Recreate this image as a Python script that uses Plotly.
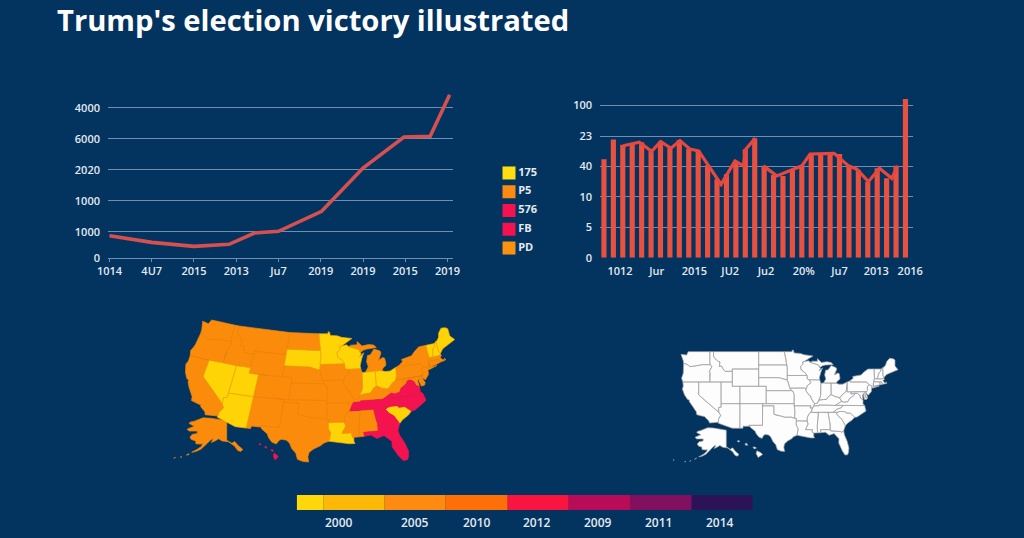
import math
import plotly.graph_objects as go

TITLE = "Trump's election victory illustrated"
BG = "#03345F"
TICK = "#E4EAF1"
GRID = "#6E8FB2"

# Line chart
line_x = [0, 1, 2, 2.83, 3.43, 4, 5.02, 6, 6.97, 7.59, 8.05]
line_y = [720, 505, 376, 441, 806, 860, 1505, 2903, 3903, 3925, 5269]
line_tickvals_x = list(range(9))
line_ticktext_x = ["1014", "4U7", "2015", "2013", "Ju7", "2019", "2019", "2015", "2019"]
line_tickvals_y = [0, 840, 1840, 2840, 3840, 4840]
line_ticktext_y = ["0", "1000", "1000", "2020", "6000", "4000"]

# Bar chart with overlaid line
bar_values = [3.24, 3.89, 3.71, 3.73, 3.80, 3.50, 3.82, 3.60, 3.87, 3.58, 3.52, 3.04, 2.58, 2.74, 3.16, 3.57, 3.93,
              3.02, 2.72, 2.69, 2.88, 3.02, 3.41, 3.43, 3.43, 3.41, 3.02, 2.88, 2.50, 2.94, 2.61, 3.02, 5.22]
bar_line_x = [2.05, 3.75, 5.06, 6.02, 7.11, 8.07, 9.13, 10.05, 12.43, 13.91, 14.8, 15.05, 16.07, None,
              16.92, 18.34, 20.1, 21.0, 21.88, 24.43, 25.95, 26.84, 28.07, 29.24, 30.55, 31.15]
bar_line_y = [3.68, 3.80, 3.50, 3.82, 3.60, 3.85, 3.57, 3.51, 2.41, 3.18, 3.02, 3.57, 3.93, None,
              3.02, 2.69, 2.91, 3.02, 3.41, 3.43, 3.02, 2.91, 2.50, 2.94, 2.61, 3.02]
bar_tickvals_x = [1.7, 5.6, 9.6, 13.4, 17.2, 21.2, 25, 28.9, 32.5]
bar_ticktext_x = ["1012", "Jur", "2015", "JU2", "Ju2", "20%", "Ju7", "2013", "2016"]
bar_tickvals_y = [0, 1, 2, 3, 4, 5]
bar_ticktext_y = ["0", "5", "10", "40", "23", "100"]

# Legend
legend_names = ["175", "P5", "576", "FB", "PD"]
legend_colors = ["#FFDD10", "#FB8A14", "#F5124F", "#F5124F", "#FB9110"]
legend_rows = [4, 3, 2, 1, 0]

# Colour scale strip
strip_widths = [27, 61, 61, 62, 61, 62, 61, 61]
strip_colors = ["#FFD80A", "#FFB806", "#FF8A10", "#FF6F08", "#FA1440", "#B80B58", "#82105E", "#2C1256"]
strip_labels = ["2000", "2005", "2010", "2012", "2009", "2011", "2014"]
strip_label_pos = [42, 118, 180, 240, 301, 362, 423]

# State outlines (lon, lat)
STATES = {
 "WA": [(-124.7,48.4),(-123.2,48.2),(-122.8,49),(-117.03,49),(-117.04,46.42),(-116.92,45.99),(-118.98,46),(-119.3,45.93),(-121.2,45.65),(-122.3,45.55),(-122.8,45.9),(-123.4,46.2),(-124,46.27),(-124.1,46.9)],
 "OR": [(-124,46.27),(-123.4,46.2),(-122.8,45.9),(-122.3,45.55),(-121.2,45.65),(-119.3,45.93),(-118.98,46),(-116.92,45.99),(-116.46,45.6),(-116.85,44.95),(-117.22,44.36),(-116.95,44.2),(-117.03,43.8),(-117.03,42),(-124.2,42),(-124.55,42.84),(-124.1,44)],
 "CA": [(-124.2,42),(-120,42),(-120,39),(-114.63,35),(-114.14,34.3),(-114.72,33.4),(-114.72,32.72),(-117.12,32.53),(-117.3,33),(-118.4,33.75),(-118.5,34.03),(-119.2,34.15),(-120.5,34.45),(-120.65,35.15),(-121.9,36.6),(-122.5,37.5),(-122.5,37.8),(-123,38),(-123.75,39),(-124.35,40.4),(-124.1,41)],
 "NV": [(-120,42),(-114.04,42),(-114.04,36.2),(-114.74,36.1),(-114.63,35),(-120,39)],
 "ID": [(-117.03,49),(-116.05,49),(-116.05,48),(-115.7,47.45),(-114.7,46.7),(-114.35,46.65),(-114.5,45.56),(-113.94,45.69),(-113.45,44.95),(-113,44.45),(-111.05,44.47),(-111.05,42),(-117.03,42),(-117.03,43.8),(-116.95,44.2),(-117.22,44.36),(-116.85,44.95),(-116.46,45.6),(-116.92,45.99),(-117.04,46.42)],
 "MT": [(-116.05,49),(-104.05,49),(-104.05,45),(-111.05,45),(-111.05,44.47),(-113,44.45),(-113.45,44.95),(-113.94,45.69),(-114.5,45.56),(-114.35,46.65),(-114.7,46.7),(-115.7,47.45),(-116.05,48)],
 "WY": [(-111.05,45),(-104.05,45),(-104.05,41),(-111.05,41)],
 "UT": [(-114.04,42),(-111.05,42),(-111.05,41),(-109.05,41),(-109.05,37),(-114.04,37)],
 "CO": [(-109.05,41),(-102.05,41),(-102.05,37),(-109.05,37)],
 "AZ": [(-114.04,37),(-109.05,37),(-109.05,31.33),(-111.07,31.33),(-114.82,32.5),(-114.72,32.72),(-114.72,33.4),(-114.14,34.3),(-114.63,35),(-114.74,36.1),(-114.04,36.2)],
 "NM": [(-109.05,37),(-103,37),(-103.04,32),(-106.62,32),(-106.53,31.78),(-108.21,31.78),(-108.21,31.33),(-109.05,31.33)],
 "ND": [(-104.05,49),(-97.23,49),(-96.85,47.6),(-96.56,45.94),(-104.05,45.94)],
 "SD": [(-104.05,45.94),(-96.56,45.94),(-96.45,45.3),(-96.45,43.5),(-96.45,42.49),(-97.9,42.8),(-98.5,43),(-104.05,43)],
 "NE": [(-104.05,43),(-98.5,43),(-97.9,42.8),(-96.45,42.49),(-96.1,41.7),(-95.85,40.8),(-95.31,40),(-102.05,40),(-102.05,41),(-104.05,41)],
 "KS": [(-102.05,40),(-95.31,40),(-94.9,39.8),(-94.61,39.1),(-94.62,37),(-102.05,37)],
 "OK": [(-103,37),(-94.62,37),(-94.43,35.4),(-94.48,33.64),(-95.5,33.9),(-97,33.85),(-98.1,34.13),(-99.2,34.3),(-100,34.56),(-100,36.5),(-103,36.5)],
 "TX": [(-106.62,32),(-103.04,32),(-103,36.5),(-100,36.5),(-100,34.56),(-99.2,34.3),(-98.1,34.13),(-97,33.85),(-95.5,33.9),(-94.48,33.64),(-94.04,33.55),(-94.04,33.02),(-94.04,32),(-93.55,31.2),(-93.7,30.3),(-93.85,29.7),(-94.7,29.4),(-95.3,28.9),(-96.4,28.35),(-97.2,27.7),(-97.35,26.9),(-97.15,25.95),(-98.2,26.05),(-99.1,26.4),(-99.5,27.5),(-100.3,28.3),(-100.8,29.25),(-101.4,29.77),(-102.3,29.88),(-102.7,29.7),(-103.15,28.98),(-104,29.3),(-104.7,30.05),(-105,30.65),(-106.2,31.47),(-106.53,31.78)],
 "MN": [(-97.23,49),(-95.15,49),(-95.15,49.38),(-94.8,49.3),(-94.6,48.7),(-93,48.6),(-92,48.3),(-90.8,48.2),(-89.6,48),(-92,46.7),(-92.3,46.65),(-92.3,46.1),(-92.9,45.6),(-92.75,44.75),(-91.9,44.3),(-91.2,43.5),(-96.45,43.5),(-96.45,45.3),(-96.56,45.94),(-96.85,47.6)],
 "IA": [(-96.45,43.5),(-91.2,43.5),(-91.1,42.7),(-90.65,42.5),(-90.15,41.8),(-91.1,41.2),(-91.42,40.38),(-91.7,40.6),(-95.77,40.58),(-95.85,40.8),(-96.1,41.7),(-96.45,42.49)],
 "MO": [(-95.77,40.58),(-91.7,40.6),(-91.42,40.38),(-91.5,40),(-90.7,39),(-90.2,38.75),(-90.2,38.4),(-89.5,37.3),(-89.15,37),(-89.4,36.5),(-89.7,36),(-90.37,36),(-90.15,36.5),(-94.62,36.5),(-94.62,37),(-94.61,39.1),(-94.9,39.8),(-95.31,40)],
 "AR": [(-94.62,36.5),(-90.15,36.5),(-90.37,36),(-89.7,36),(-90.1,35.1),(-90.6,34.7),(-91.1,33.9),(-91.17,33),(-94.04,33.02),(-94.04,33.55),(-94.48,33.64),(-94.43,35.4)],
 "LA": [(-94.04,33.02),(-91.17,33),(-90.9,32.3),(-91.6,31),(-89.73,31),(-89.85,30.65),(-89.6,30.2),(-89.4,30.05),(-89.4,29.5),(-89.2,29.1),(-90.2,29.1),(-91.3,29.3),(-92.3,29.55),(-93.85,29.7),(-93.7,30.3),(-93.55,31.2),(-94.04,32)],
 "WI": [(-92.3,46.65),(-92,46.7),(-90.8,46.9),(-90.4,46.55),(-89.1,46.13),(-88.1,45.9),(-87.8,45.35),(-87.6,45.1),(-88,44.55),(-87.05,45.25),(-87.5,44.3),(-87.9,43),(-87.8,42.49),(-90.65,42.5),(-91.1,42.7),(-91.2,43.5),(-91.9,44.3),(-92.75,44.75),(-92.9,45.6),(-92.3,46.1)],
 "IL": [(-90.65,42.5),(-87.8,42.49),(-87.53,41.72),(-87.53,39.35),(-87.6,38.7),(-88.05,37.8),(-88.45,37.1),(-89.15,37),(-89.5,37.3),(-90.2,38.4),(-90.2,38.75),(-90.7,39),(-91.5,40),(-91.42,40.38),(-91.1,41.2),(-90.15,41.8)],
 "IN": [(-87.53,41.72),(-87.2,41.76),(-86.8,41.76),(-84.8,41.76),(-84.8,39.1),(-85.4,38.73),(-86,38),(-86.8,37.95),(-88.05,37.8),(-87.6,38.7),(-87.53,39.35)],
 "OH": [(-84.8,41.76),(-83.45,41.73),(-82.7,41.5),(-81.7,41.5),(-80.52,41.98),(-80.52,40.64),(-80.7,40.1),(-80.9,39.7),(-81.7,39.2),(-82.2,38.6),(-82.6,38.4),(-83.7,38.63),(-84.3,38.95),(-84.8,39.1)],
 "KY": [(-89.4,36.5),(-88.07,36.5),(-88.05,36.68),(-83.68,36.6),(-81.97,37.54),(-82.6,38.17),(-82.6,38.4),(-83.7,38.63),(-84.3,38.95),(-84.8,39.1),(-85.4,38.73),(-86,38),(-86.8,37.95),(-88.05,37.8),(-88.45,37.1),(-89.15,37)],
 "TN": [(-89.7,36),(-89.4,36.5),(-88.07,36.5),(-88.05,36.68),(-83.68,36.6),(-81.68,36.59),(-82,36.1),(-83.1,35.75),(-84.3,35),(-90.1,35)],
 "MS": [(-90.1,35),(-88.2,35),(-88.1,34.9),(-88.47,31.9),(-88.4,30.25),(-89.6,30.2),(-89.85,30.65),(-89.73,31),(-91.6,31),(-90.9,32.3),(-91.17,33),(-91.1,33.9),(-90.6,34.7)],
 "AL": [(-88.2,35),(-85.6,34.98),(-85.18,32.87),(-85,32.3),(-85,31),(-87.6,31),(-87.5,30.3),(-88,30.25),(-88.4,30.25),(-88.47,31.9),(-88.1,34.9)],
 "GA": [(-85.6,34.98),(-83.1,35),(-83.35,34.7),(-82.75,34),(-81.9,33.4),(-81.1,32.1),(-81,31.9),(-81.45,30.72),(-82.05,30.36),(-82.2,30.57),(-84.86,30.7),(-85,31),(-85,32.3),(-85.18,32.87)],
 "FL": [(-87.6,31),(-85,31),(-84.86,30.7),(-82.2,30.57),(-82.05,30.36),(-81.45,30.72),(-81.25,29.8),(-80.55,28.4),(-80.05,26.8),(-80.15,25.75),(-80.4,25.2),(-81.1,25.15),(-81.8,26.1),(-82.2,26.9),(-82.75,27.9),(-82.7,28.9),(-83.4,29.6),(-84,30.1),(-85.3,29.7),(-86.3,30.4),(-87.5,30.3)],
 "SC": [(-83.1,35),(-82.3,35.2),(-81.05,35.15),(-80.8,34.82),(-79.67,34.8),(-78.55,33.86),(-79.2,33.2),(-80.4,32.5),(-81,31.9),(-81.1,32.1),(-81.9,33.4),(-82.75,34),(-83.35,34.7)],
 "NC": [(-84.3,35),(-83.1,35.75),(-82,36.1),(-81.68,36.59),(-75.87,36.55),(-75.5,35.3),(-76.5,34.7),(-77.9,33.9),(-78.55,33.86),(-79.67,34.8),(-80.8,34.82),(-81.05,35.15),(-82.3,35.2),(-83.1,35)],
 "VA": [(-83.68,36.6),(-81.97,37.54),(-81.3,37.3),(-80.3,37.5),(-79.9,38.2),(-79.3,38.45),(-78.87,38.77),(-78.35,39.4),(-77.75,39.33),(-77.1,38.85),(-77,38.3),(-76.3,37.9),(-76.3,37),(-75.87,36.55),(-81.68,36.59)],
 "WV": [(-81.97,37.54),(-82.6,38.17),(-82.6,38.4),(-82.2,38.6),(-81.7,39.2),(-80.9,39.7),(-80.7,40.1),(-80.52,40.64),(-80.52,39.72),(-79.48,39.72),(-79.48,39.2),(-78.35,39.4),(-78.87,38.77),(-79.3,38.45),(-79.9,38.2),(-80.3,37.5),(-81.3,37.3)],
 "PA": [(-80.52,41.98),(-79.76,42.27),(-79.76,42),(-75.35,42),(-74.7,41.36),(-75.13,40.97),(-75.13,40),(-75.42,39.8),(-80.52,39.72),(-80.52,40.64)],
 "NY": [(-79.76,42.27),(-78.9,42.85),(-79.05,43.27),(-76.8,43.63),(-76.2,44.2),(-75,44.98),(-73.35,45.01),(-73.3,43.6),(-73.25,42.75),(-73.5,42.05),(-73.5,41.3),(-73.65,41),(-72,41.05),(-73.7,40.6),(-74,40.7),(-73.9,41),(-74.7,41.36),(-75.35,42),(-79.76,42)],
 "NJ": [(-74.7,41.36),(-73.9,41),(-74,40.45),(-74.1,39.75),(-74.9,38.95),(-75.55,39.5),(-75.13,40),(-75.13,40.97)],
 "DE": [(-75.8,39.72),(-75.42,39.8),(-75.55,39.5),(-75.05,38.45),(-75.7,38.45)],
 "MD": [(-79.48,39.72),(-75.8,39.72),(-75.7,38.45),(-75.05,38.45),(-75.25,38.03),(-75.9,37.95),(-76.2,38.9),(-76.1,39.4),(-76.45,38.95),(-76.3,37.9),(-77,38.3),(-77.1,38.85),(-77.75,39.33),(-78.35,39.4),(-79.48,39.2)],
 "CT": [(-73.5,42.05),(-71.8,42.02),(-71.8,41.32),(-73.65,41),(-73.5,41.3)],
 "RI": [(-71.8,42.02),(-71.38,42.02),(-71.15,41.5),(-71.8,41.32)],
 "MA": [(-73.5,42.05),(-73.25,42.75),(-71.3,42.7),(-70.8,42.87),(-70.6,42.65),(-71,42.3),(-70.55,41.8),(-70,41.8),(-70.2,42.05),(-69.95,41.7),(-70.65,41.55),(-71.15,41.5),(-71.38,42.02),(-71.8,42.02)],
 "VT": [(-73.35,45.01),(-71.5,45.01),(-71.6,44.5),(-72.05,44.1),(-72.45,43),(-72.46,42.73),(-73.25,42.75),(-73.3,43.6)],
 "NH": [(-71.5,45.01),(-71.08,45.3),(-70.98,43.38),(-70.7,43.07),(-70.8,42.87),(-71.3,42.7),(-72.46,42.73),(-72.45,43),(-72.05,44.1),(-71.6,44.5)],
 "ME": [(-71.08,45.3),(-70.8,45.4),(-70.3,45.9),(-70,46.7),(-69.23,47.46),(-68.3,47.36),(-67.8,47.07),(-67.8,45.7),(-67,44.85),(-68.5,44.3),(-70,43.75),(-70.7,43.07),(-70.98,43.38)],
 "MI": [(-86.8,41.76),(-84.8,41.76),(-83.45,41.73),(-83.1,42.2),(-82.5,42.6),(-82.45,43),(-82.6,43.9),(-83,44.07),(-83.9,43.65),(-83.3,44.9),(-83.45,45.3),(-84.75,45.78),(-85.6,44.8),(-86.25,44.7),(-86.5,43.6),(-86.2,42.7)],
 "MIU": [(-90.4,46.55),(-89.1,46.13),(-88.1,45.9),(-87.8,45.35),(-87.05,45.75),(-86.3,45.9),(-85,46),(-84.2,46),(-84.8,46.5),(-85.9,46.68),(-87.4,46.5),(-88.4,47.4),(-88.45,46.8),(-89.8,46.8)],
}
ALASKA = [(-141,69.6),(-141,60.3),(-137.5,58.9),(-135.5,59.7),(-133.5,58),(-130,55.9),(-131.5,55),(-133.5,55.5),(-135.5,57.5),(-137,58.3),(-139.8,59.6),(-144,60),(-146.5,61),(-149,60),(-151.5,59.3),(-150,61.2),(-152,60.5),(-154,59),(-156.5,57.2),(-158.5,56.1),(-162,55),(-164.8,54.6),(-161,56),(-158,57.5),(-157.5,58.8),(-159,58.5),(-162,58.7),(-162,60),(-165,60.7),(-166,61.8),(-164.5,63.1),(-161,63.6),(-161,64.7),(-166.5,64.7),(-168,65.6),(-164,66.5),(-163,67),(-166.5,68.3),(-166,68.9),(-163,69.4),(-157,71),(-152,70.8),(-146,70.1)]
ALEUTIANS = [[(-168.4,53.3),(-166.6,53.95),(-166.8,53.4)], [(-172.6,52.2),(-171.4,52.5),(-171.6,52.1)], [(-177,51.8),(-175.8,52.1),(-176,51.7)], [(-187,52.8),(-186,53),(-186,52.7)]]
HAWAII = [[(-155.9,20.25),(-155.1,19.85),(-154.8,19.5),(-155.65,18.95),(-156.05,19.7)],
          [(-156.7,20.95),(-156.3,20.95),(-156,20.75),(-156.4,20.58)],
          [(-158.25,21.55),(-157.95,21.7),(-157.7,21.3),(-158.1,21.3)],
          [(-159.75,22.1),(-159.4,22.22),(-159.3,22),(-159.6,21.9)]]
YELLOW_STATES = ["NV", "UT", "AZ", "SD", "MN", "WI", "LA", "IN", "OH", "SC", "ME", "VT", "NH"]
RED_STATES = ["TN", "NC", "VA", "GA", "FL"]


def albers(lon, lat):
    p1, p2, p0, l0 = map(math.radians, (29.5, 45.5, 37.5, -96))
    n = (math.sin(p1) + math.sin(p2)) / 2
    c = math.cos(p1) ** 2 + 2 * n * math.sin(p1)
    rho0 = math.sqrt(c - 2 * n * math.sin(p0)) / n
    rho = math.sqrt(c - 2 * n * math.sin(math.radians(lat))) / n
    th = n * (math.radians(lon) - l0)
    return rho * math.sin(th), rho0 - rho * math.cos(th)


proj = {k: [albers(*p) for p in v] for k, v in STATES.items()}
xs = [p[0] for v in proj.values() for p in v]
ys = [p[1] for v in proj.values() for p in v]
xmin, xmax, ymin, ymax = min(xs), max(xs), min(ys), max(ys)
lons = [p[0] for v in STATES.values() for p in v]
lats = [p[1] for v in STATES.values() for p in v]
lonmin, lonmax, latmin, latmax = min(lons), max(lons), min(lats), max(lats)


def join(polys):
    X, Y = [], []
    for poly in polys:
        X += [p[0] for p in poly] + [poly[0][0], None]
        Y += [p[1] for p in poly] + [poly[0][1], None]
    return X, Y


def place_albers(poly, box, shear):
    l, r, t, b = box
    out = []
    for x, y in poly:
        f = (y - ymin) / (ymax - ymin)
        out.append((l + (x - xmin) / (xmax - xmin) * (r - l) - shear * (1 - f), b - f * (b - t)))
    return out


def place_plain(poly, box):
    l, r, t, b = box
    return [(l + (lo - lonmin) / (lonmax - lonmin) * (r - l), b - (la - latmin) / (latmax - latmin) * (b - t)) for lo, la in poly]


def place_inset(poly, lon0, px0, kx, lat0, py0, ky):
    return [(px0 + (lon - lon0) * kx, py0 - (lat - lat0) * ky) for lon, lat in poly]


W, H = 1024, 538
def dx(a, b): return [a / W, b / W]
def dy(top, bottom): return [1 - bottom / H, 1 - top / H]


fig = go.Figure()

# line chart
fig.add_trace(go.Scatter(x=line_x, y=line_y, mode="lines", line=dict(color="#D6504F", width=3.6), xaxis="x", yaxis="y", showlegend=False))

# legend as marks with labels
fig.add_trace(go.Scatter(x=[0] * len(legend_names), y=legend_rows, mode="markers+text", text=legend_names,
                         textposition="middle right", textfont=dict(family="Open Sans", size=11, color=TICK, weight=700),
                         marker=dict(symbol="square", size=13, color=legend_colors, line=dict(width=0)),
                         xaxis="x6", yaxis="y6", showlegend=False, cliponaxis=False))

# bar chart
fig.add_trace(go.Bar(x=list(range(len(bar_values))), y=bar_values, width=0.55, marker=dict(color="#E8503F", line_width=0), xaxis="x2", yaxis="y2", showlegend=False))
fig.add_trace(go.Scatter(x=bar_line_x, y=bar_line_y, mode="lines", line=dict(color="#E8473F", width=3.2), xaxis="x2", yaxis="y2", showlegend=False))

# maps
box1 = (189, 456, 320, 462)
box2 = (681, 898, 350, 455)
ak1 = dict(lon0=-168, px0=187, kx=1.47, lat0=71.4, py0=417, ky=2.1)
ak2 = dict(lon0=-168, px0=695, kx=1.158, lat0=71.4, py0=427, ky=1.78)
hi1 = dict(lon0=-160, px0=258, kx=3.9, lat0=22.3, py0=443, ky=5.0)
hi2 = dict(lon0=-160, px0=736, kx=5.1, lat0=22.3, py0=440, ky=5.2)

ORANGE, YEL, RED = "#FB8B0B", "#FFD407", "#F3134F"
groups1 = {ORANGE: [], YEL: [], RED: []}
for k, v in proj.items():
    col = YEL if k in YELLOW_STATES else RED if k in RED_STATES else ORANGE
    groups1[col].append(place_albers(v, box1, 10))
groups1[ORANGE].append(place_inset(ALASKA, **ak1))
for isl in ALEUTIANS[:3]:
    groups1[ORANGE].append(place_inset(isl, **ak1))
for isl in HAWAII:
    groups1[RED].append(place_inset(isl, **hi1))
for col, polys in groups1.items():
    X, Y = join(polys)
    edge = {ORANGE: "#EE8508", YEL: "#F2A806", RED: "#F3134F"}[col]
    fig.add_trace(go.Scatter(x=X, y=Y, mode="lines", fill="toself", fillcolor=col, line=dict(color=edge, width=0.7), xaxis="x3", yaxis="y3", showlegend=False))

white = [place_plain(v, box2) for v in STATES.values()] + [place_inset(ALASKA, **ak2)] + [place_inset(i, **ak2) for i in ALEUTIANS] + [place_inset(i, **hi2) for i in HAWAII]
X, Y = join(white)
fig.add_trace(go.Scatter(x=X, y=Y, mode="lines", fill="toself", fillcolor="#FDFDFD", line=dict(color="#A3A3A3", width=0.7), xaxis="x4", yaxis="y4", showlegend=False))

# colour strip
left = 0
bases = []
for w in strip_widths:
    bases.append(left)
    left += w
fig.add_trace(go.Bar(x=strip_widths, base=bases, y=[0] * len(strip_widths), orientation="h", width=1,
                     marker=dict(color=strip_colors, line_width=0), xaxis="x5", yaxis="y5", showlegend=False))

tick_font = dict(family="Open Sans", size=11, color=TICK, weight=600)
strip_font = dict(family="Open Sans", size=12, color=TICK, weight=600)
fig.update_layout(
    width=W, height=H, autosize=False, margin=dict(l=0, r=0, t=0, b=0, autoexpand=False),
    paper_bgcolor=BG, plot_bgcolor=BG, barmode="overlay", showlegend=False,
    xaxis=dict(domain=dx(108, 452.6), range=[-0.035, 8.12], tickvals=line_tickvals_x, ticktext=line_ticktext_x, tickfont=tick_font,
               showgrid=False, zeroline=False, showline=True, linecolor=GRID, ticks="outside", ticklen=3, tickcolor=GRID, anchor="y"),
    yaxis=dict(domain=dy(92, 258), range=[0, 5355], tickvals=line_tickvals_y, ticktext=line_ticktext_y, tickfont=tick_font,
               gridcolor=GRID, gridwidth=1, zeroline=False, anchor="x", ticklabelstandoff=7),
    xaxis2=dict(domain=dx(600, 913), range=[-0.42, 32.8], tickvals=bar_tickvals_x, ticktext=bar_ticktext_x, tickfont=tick_font,
                showgrid=False, zeroline=False, ticks="outside", ticklen=3, tickcolor=BG, anchor="y2"),
    yaxis2=dict(domain=dy(95, 257.7), range=[0, 5.35], tickvals=bar_tickvals_y, ticktext=bar_ticktext_y, tickfont=tick_font,
                gridcolor=GRID, gridwidth=1, zeroline=False, anchor="x2", ticklabelstandoff=7),
    xaxis3=dict(domain=dx(165, 465), range=[165, 465], visible=False, anchor="y3"),
    yaxis3=dict(domain=dy(312, 470), range=[470, 312], visible=False, anchor="x3"),
    xaxis4=dict(domain=dx(665, 905), range=[665, 905], visible=False, anchor="y4"),
    yaxis4=dict(domain=dy(342, 472), range=[472, 342], visible=False, anchor="x4"),
    xaxis5=dict(domain=dx(296.7, 752.7), range=[0, 456], tickvals=strip_label_pos, ticktext=strip_labels, tickfont=strip_font,
                showgrid=False, zeroline=False, ticks="outside", ticklen=2, tickcolor=BG, anchor="y5"),
    yaxis5=dict(domain=dy(495, 510), range=[-0.5, 0.5], visible=False, anchor="x5"),
    xaxis6=dict(domain=dx(503, 515), range=[-0.5, 0.5], visible=False, anchor="y6"),
    yaxis6=dict(domain=dy(163.6, 257.4), range=[-0.5, 4.5], visible=False, anchor="x6"),
    annotations=[dict(text=TITLE, x=56 / W, y=1 - 20 / H, xref="paper", yref="paper", xanchor="left", yanchor="middle", borderpad=0,
                      showarrow=False, font=dict(family="Open Sans", size=29.2, color="#FFFFFF", weight=700))],
)
fig.write_html("out.html", config={"displayModeBar": False}, post_script="document.body.style.margin='0';")
